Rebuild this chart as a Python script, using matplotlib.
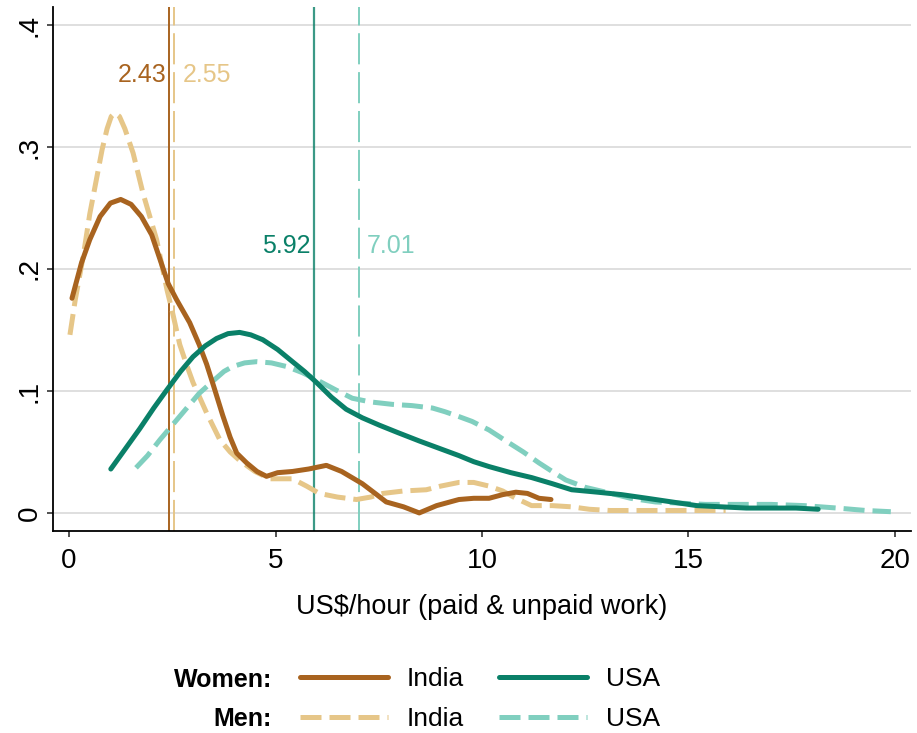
import matplotlib
matplotlib.use("Agg")
import matplotlib.pyplot as plt

plt.rcParams['font.family'] = ['Liberation Sans', 'DejaVu Sans']

# Kernel density estimates of hourly value of work (US$/hour)
women_india_x = [0.07, 0.3, 0.5, 0.75, 1.0, 1.25, 1.5, 1.75, 2.0, 2.2, 2.4, 2.6, 2.92, 3.15,
                 3.33, 3.5, 3.72, 3.9, 4.06, 4.3, 4.55, 4.78, 5.05, 5.41, 5.8, 6.23, 6.6, 7.1,
                 7.45, 7.68, 8.1, 8.48, 8.9, 9.44, 9.8, 10.17, 10.5, 10.82, 11.1, 11.38, 11.67]
women_india_y = [0.176, 0.205, 0.224, 0.243, 0.254, 0.257, 0.253, 0.243, 0.228, 0.208, 0.188,
                 0.175, 0.156, 0.138, 0.122, 0.104, 0.080, 0.062, 0.049, 0.041, 0.034, 0.030,
                 0.033, 0.034, 0.036, 0.039, 0.034, 0.024, 0.015, 0.009, 0.005, 0.0, 0.006,
                 0.011, 0.012, 0.012, 0.015, 0.017, 0.016, 0.012, 0.011]

men_india_x = [0.02, 0.15, 0.34, 0.5, 0.67, 0.8, 0.92, 1.02, 1.11, 1.22, 1.35, 1.55, 1.79, 2.12,
               2.37, 2.5, 2.68, 2.85, 3.0, 3.33, 3.65, 3.9, 4.13, 4.5, 4.86, 5.1, 5.41, 5.75,
               6.06, 6.5, 6.96, 7.3, 7.6, 8.1, 8.65, 9.0, 9.44, 9.8, 10.17, 10.5, 10.82, 11.2,
               11.7, 12.17, 12.6, 13.1, 14.0, 14.6, 15.2, 15.9]
men_india_y = [0.146, 0.175, 0.21, 0.245, 0.275, 0.298, 0.315, 0.325, 0.328, 0.325, 0.315,
               0.295, 0.262, 0.224, 0.183, 0.165, 0.138, 0.121, 0.107, 0.082, 0.060, 0.050,
               0.043, 0.034, 0.028, 0.028, 0.028, 0.022, 0.016, 0.013, 0.011, 0.013, 0.016,
               0.018, 0.019, 0.022, 0.025, 0.025, 0.022, 0.018, 0.012, 0.006, 0.006, 0.005,
               0.003, 0.002, 0.002, 0.002, 0.002, 0.002]

women_usa_x = [1.01, 1.35, 1.71, 2.05, 2.37, 2.7, 3.0, 3.3, 3.57, 3.85, 4.13, 4.4, 4.69, 5.05,
               5.41, 5.7, 5.99, 6.35, 6.71, 7.1, 7.51, 7.95, 8.48, 8.96, 9.44, 9.8, 10.17,
               10.7, 11.2, 11.7, 12.17, 12.8, 13.38, 14.0, 14.6, 15.2, 15.8, 16.4, 17.0, 17.6,
               18.14]
women_usa_y = [0.036, 0.052, 0.069, 0.086, 0.101, 0.116, 0.128, 0.137, 0.143, 0.147, 0.148,
               0.146, 0.142, 0.134, 0.124, 0.116, 0.107, 0.095, 0.085, 0.078, 0.072, 0.066,
               0.059, 0.053, 0.047, 0.042, 0.038, 0.033, 0.029, 0.024, 0.019, 0.017, 0.015,
               0.012, 0.009, 0.006, 0.005, 0.004, 0.004, 0.004, 0.003]

men_usa_x = [1.62, 1.9, 2.2, 2.5, 2.85, 3.15, 3.48, 3.75, 3.96, 4.25, 4.54, 4.9, 5.27, 5.65,
             6.06, 6.45, 6.86, 7.3, 7.83, 8.3, 8.8, 9.1, 9.44, 9.76, 10.17, 10.58, 11.0,
             11.38, 11.7, 12.03, 12.5, 13.0, 13.6, 14.2, 14.8, 15.41, 16.2, 17.0, 17.8, 18.6,
             19.3, 19.9]
men_usa_y = [0.037, 0.047, 0.060, 0.072, 0.086, 0.098, 0.108, 0.116, 0.120, 0.123, 0.124,
             0.123, 0.120, 0.115, 0.108, 0.101, 0.094, 0.091, 0.089, 0.088, 0.086, 0.083,
             0.079, 0.075, 0.068, 0.059, 0.050, 0.041, 0.034, 0.027, 0.021, 0.017, 0.012,
             0.009, 0.008, 0.007, 0.007, 0.007, 0.006, 0.004, 0.002, 0.001]

# Medians
median_women_india = 2.43
median_men_india = 2.55
median_women_usa = 5.92
median_men_usa = 7.01

BROWN = '#a8631f'
TAN = '#e6c688'
TEAL = '#0a8068'
LTEAL = '#80cfbf'

fig = plt.figure(figsize=(9.17, 7.33), dpi=100)
ax = fig.add_axes([0.0578, 0.2756, 0.9357, 0.7149])

LW = 3.6
dash_men = (4.2, 1.6)

# median reference lines
ax.axvline(median_women_india, color=BROWN, lw=1.4, zorder=2)
ax.axvline(median_men_india, color=TAN, lw=1.4, dashes=(16, 4), zorder=2)
ax.axvline(median_women_usa, color=TEAL, lw=1.6, alpha=0.8, zorder=2)
ax.axvline(median_men_usa, color=LTEAL, lw=1.4, dashes=(16, 4), zorder=2)

# density curves
l_mi, = ax.plot(men_india_x, men_india_y, color=TAN, lw=LW, dashes=dash_men,
                solid_capstyle='butt', zorder=3)
l_mu, = ax.plot(men_usa_x, men_usa_y, color=LTEAL, lw=LW, dashes=dash_men,
                solid_capstyle='butt', zorder=3)
l_wi, = ax.plot(women_india_x, women_india_y, color=BROWN, lw=LW,
                solid_capstyle='round', zorder=4)
l_wu, = ax.plot(women_usa_x, women_usa_y, color=TEAL, lw=LW,
                solid_capstyle='round', zorder=4)

# median labels
lab_kw = dict(textcoords='offset points', va='center', fontsize=18)
ax.annotate(f'{median_women_india:.2f}', (median_women_india, 0.359), xytext=(-2, 0),
            ha='right', color=BROWN, **lab_kw)
ax.annotate(f'{median_men_india:.2f}', (median_men_india, 0.359), xytext=(6, 0),
            ha='left', color=TAN, **lab_kw)
ax.annotate(f'{median_women_usa:.2f}', (median_women_usa, 0.219), xytext=(-2, 0),
            ha='right', color=TEAL, **lab_kw)
ax.annotate(f'{median_men_usa:.2f}', (median_men_usa, 0.219), xytext=(6, 0),
            ha='left', color=LTEAL, **lab_kw)

ax.set_xlim(-0.39, 20.39)
ax.set_ylim(-0.0148, 0.4148)
ax.set_xticks([0, 5, 10, 15, 20])
ax.set_yticks([0, 0.1, 0.2, 0.3, 0.4])
ax.set_yticklabels(['0', '.1', '.2', '.3', '.4'], rotation=90, va='center')
ax.tick_params(axis='both', labelsize=20, length=4.5, width=1.2, color='#333333')
ax.tick_params(axis='y', pad=3)
ax.tick_params(axis='x', pad=8)
ax.grid(axis='y', color='#d9d9d9', lw=1.2)
ax.set_axisbelow(True)
for side in ['top', 'right']:
    ax.spines[side].set_visible(False)
for side in ['left', 'bottom']:
    ax.spines[side].set_linewidth(1.3)

ax.set_xlabel('US$/hour (paid & unpaid work)', fontsize=19.5, labelpad=14)

# legend: women row above men row, India column then USA column
fig.legend([l_wi, l_mi, l_wu, l_mu], ['India', 'India', 'USA', 'USA'], ncol=2,
           loc='upper left', bbox_to_anchor=(300 / 917, 1 - 667 / 733),
           frameon=False, fontsize=19, handlelength=3.33, handletextpad=0.72,
           columnspacing=1.33, labelspacing=0.62, borderpad=0, borderaxespad=0)
fig.text(272 / 917, 1 - 680 / 733, 'Women:', ha='right', va='center',
         fontsize=18, fontweight='bold')
fig.text(272 / 917, 1 - 719 / 733, 'Men:', ha='right', va='center',
         fontsize=18, fontweight='bold')

fig.savefig('out.png', dpi=100)
